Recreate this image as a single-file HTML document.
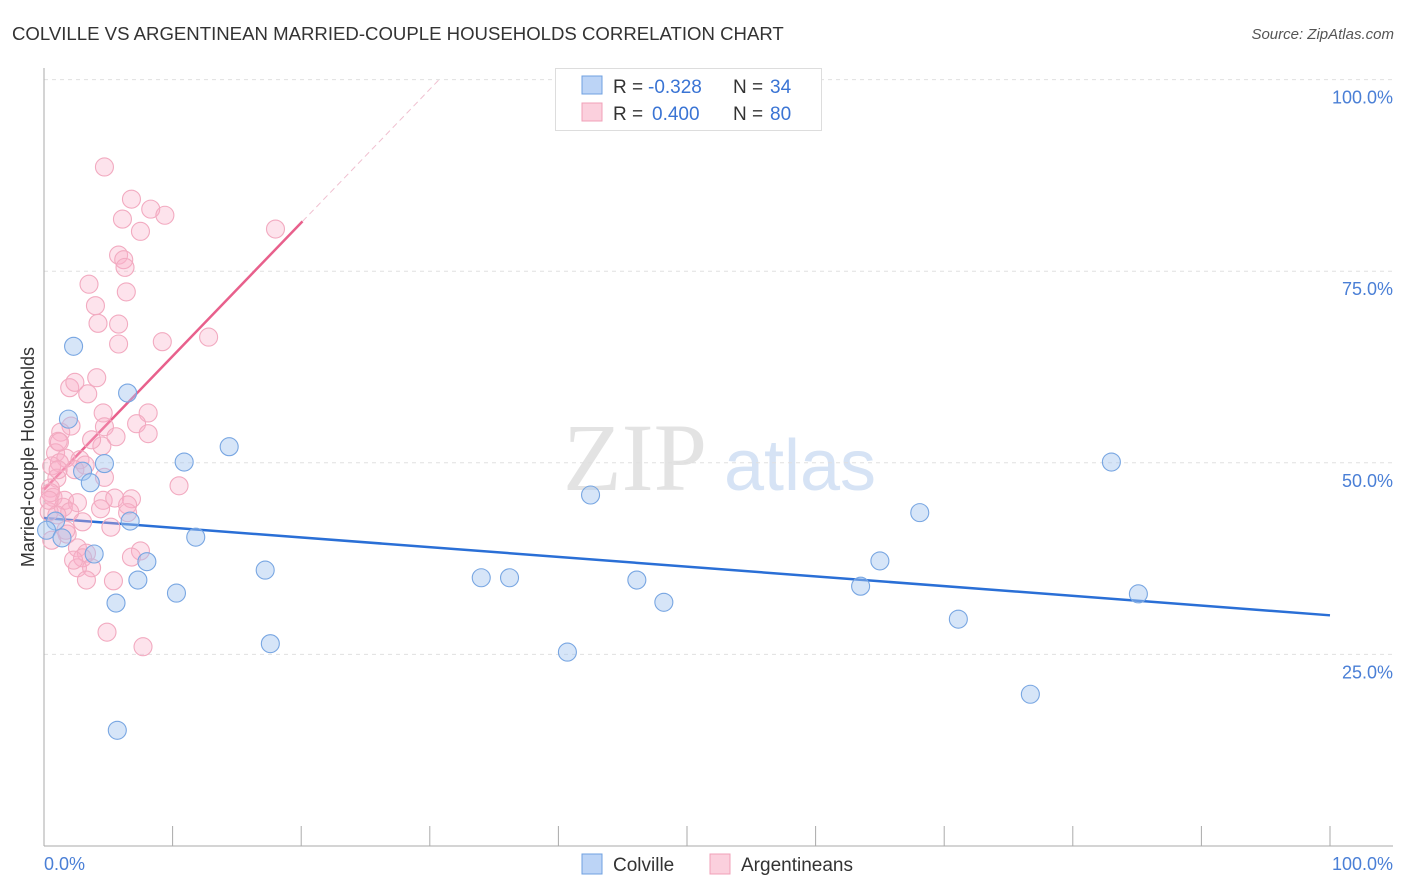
<!DOCTYPE html>
<html><head><meta charset="utf-8"><style>
body{margin:0;background:#fff;font-family:"Liberation Sans",sans-serif;}
svg{display:block}
</style></head><body>
<svg id="chart" width="1406" height="892">
<text x="12" y="40" font-size="18.6" fill="#333">COLVILLE VS ARGENTINEAN MARRIED-COUPLE HOUSEHOLDS CORRELATION CHART</text>
<text x="1394" y="39" font-size="15" fill="#555" font-style="italic" text-anchor="end">Source: ZipAtlas.com</text>
<text x="635" y="490" font-size="96" fill="#e3e3e3" font-family="Liberation Serif" text-anchor="middle">ZIP</text>
<text x="800" y="490" font-size="72" fill="#d6e3f5" text-anchor="middle">atlas</text>
<g id="grid"></g><g id="axes"></g><g id="lines"></g><g id="pts"></g>
<text transform="translate(34,457) rotate(-90)" font-size="18" fill="#333" text-anchor="middle">Married-couple Households</text>
<text x="44" y="870" font-size="18" fill="#4a7fd6">0.0%</text>
<text x="1393" y="870" font-size="18" fill="#4a7fd6" text-anchor="end">100.0%</text>
<g>
<rect x="555.5" y="68.5" width="266" height="62" fill="#fff" stroke="#ddd"/>
<rect x="582" y="76" width="20" height="18" fill="#bcd4f6" stroke="#6fa0e0"/>
<text x="613" y="93" font-size="19" fill="#333">R =</text>
<text x="648" y="93" font-size="19" fill="#3a74d4">-0.328</text>
<text x="733" y="93" font-size="19" fill="#333">N =</text>
<text x="770" y="93" font-size="19" fill="#3a74d4">34</text>
<rect x="582" y="103" width="20" height="18" fill="#fbd0dd" stroke="#f0a0b8"/>
<text x="613" y="120" font-size="19" fill="#333">R =</text>
<text x="652" y="120" font-size="19" fill="#3a74d4">0.400</text>
<text x="733" y="120" font-size="19" fill="#333">N =</text>
<text x="770" y="120" font-size="19" fill="#3a74d4">80</text>
</g>
<g><rect x="582" y="854" width="20" height="20" fill="#bcd4f6" stroke="#6fa0e0"/><text x="613" y="871" font-size="19" fill="#333">Colville</text></g>
<g><rect x="710" y="854" width="20" height="20" fill="#fbd0dd" stroke="#f0a0b8"/><text x="741" y="871" font-size="19" fill="#333">Argentineans</text></g>
</svg>
<script>
const yTicks=[25,50,75,100];
const yTickLabels=["25.0%","50.0%","75.0%","100.0%"];
const blueX=[2.3,6.5,1.9,4.7,3.0,3.6,10.9,14.4,0.9,0.2,1.4,6.7,11.8,3.9,8.0,7.3,17.2,10.3,5.6,17.6,5.7,42.5,34.0,36.2,40.7,46.1,48.2,63.5,65.0,68.1,71.1,76.7,83.0,85.1];
const blueY=[65.2,59.1,55.7,49.9,48.9,47.4,50.1,52.1,42.4,41.2,40.2,42.4,40.3,38.1,37.1,34.7,36.0,33.0,31.7,26.4,15.1,45.8,35.0,35.0,25.3,34.7,31.8,33.9,37.2,43.5,29.6,19.8,50.1,32.9];
const pinkX=[4.7,6.8,8.3,9.4,6.1,7.5,18.0,5.8,6.2,6.3,3.5,4.0,6.4,4.2,5.8,5.8,9.2,12.8,2.0,2.4,4.1,3.4,4.6,8.1,2.1,4.7,7.2,1.3,1.1,5.6,8.1,0.9,1.7,1.2,0.6,2.8,4.5,1.0,4.7,10.5,0.5,0.7,1.6,2.6,4.6,5.5,6.8,1.5,2.0,4.4,6.5,0.4,3.0,5.2,6.5,1.8,0.6,2.6,3.3,7.5,3.0,6.8,2.6,3.7,3.3,5.4,4.9,7.7,0.5,1.0,1.2,3.2,2.3,0.4,1.1,1.7,3.7,2.4];
const pinkY=[88.6,84.4,83.1,82.3,81.8,80.2,80.5,77.1,76.5,75.5,73.3,70.5,72.3,68.2,68.1,65.5,65.8,66.4,59.8,60.5,61.1,59.0,56.5,56.5,54.8,54.7,55.1,54.0,52.8,53.4,53.8,51.3,50.6,50.0,49.6,50.4,52.2,48.0,48.1,47.0,46.7,45.5,45.1,44.8,45.1,45.4,45.3,44.2,43.6,44.0,44.5,43.6,42.3,41.6,43.5,40.7,39.9,38.9,38.2,38.5,37.6,37.7,36.3,36.3,34.7,34.6,27.9,26.0,46.1,43.2,52.7,49.7,37.3,45.1,49.1,41.2,53.0,49.1];
const blueTrend=[42.8,30.1];
const pinkTrend=[46.5,81.5,20.1];
const NS="http://www.w3.org/2000/svg";
const X0=44,X1=1330,Y0=846,YSCALE=7.664;
const sx=v=>X0+(X1-X0)*v/100, sy=v=>Y0-v*YSCALE;
function mk(t,a,p){const e=document.createElementNS(NS,t);for(const k in a)e.setAttribute(k,a[k]);document.getElementById(p).appendChild(e);return e;}
yTicks.forEach((t,i)=>{
 const g=mk('line',{x1:44,x2:1393,y1:sy(t),y2:sy(t),stroke:'#e0e0e0','stroke-dasharray':'4,4'},'grid');
 
 
 const l=mk('text',{x:1393,y:sy(t)+24,'font-size':18,fill:'#4a7fd6','text-anchor':'end'},'grid');
 l.textContent=yTickLabels[i];
 
 
});
let a=mk('line',{x1:44,x2:44,y1:68,y2:846,stroke:'#aaa'},'axes');


a=mk('line',{x1:44,x2:1393,y1:846,y2:846,stroke:'#aaa'},'axes');


for(let i=1;i<=10;i++){const t=mk('line',{x1:sx(i*10),x2:sx(i*10),y1:826,y2:846,stroke:'#aaa'},'axes');
 
 }
let ln=mk('line',{x1:sx(0),y1:sy(blueTrend[0]),x2:sx(100),y2:sy(blueTrend[1]),stroke:'#2a6fd6','stroke-width':2.5},'lines');


const slope=(pinkTrend[1]-pinkTrend[0])/pinkTrend[2];
ln=mk('line',{x1:sx(0),y1:sy(pinkTrend[0]),x2:sx(pinkTrend[2]),y2:sy(pinkTrend[1]),stroke:'#e8608c','stroke-width':2.5},'lines');


const xe=(100-pinkTrend[0])/slope;
ln=mk('line',{x1:sx(pinkTrend[2]),y1:sy(pinkTrend[1]),x2:sx(xe),y2:sy(100),stroke:'#f0c0d0','stroke-width':1,'stroke-dasharray':'6,4'},'lines');


pinkX.forEach((x,i)=>{const c=mk('circle',{cx:sx(x),cy:sy(pinkY[i]),r:9,fill:'rgba(248,175,200,0.35)',stroke:'#f2aac0','stroke-width':1.1},'pts');
 
 });
blueX.forEach((x,i)=>{const c=mk('circle',{cx:sx(x),cy:sy(blueY[i]),r:9,fill:'rgba(165,198,240,0.45)',stroke:'#78a6e2','stroke-width':1.1},'pts');
 
 });
</script>
</body></html>
